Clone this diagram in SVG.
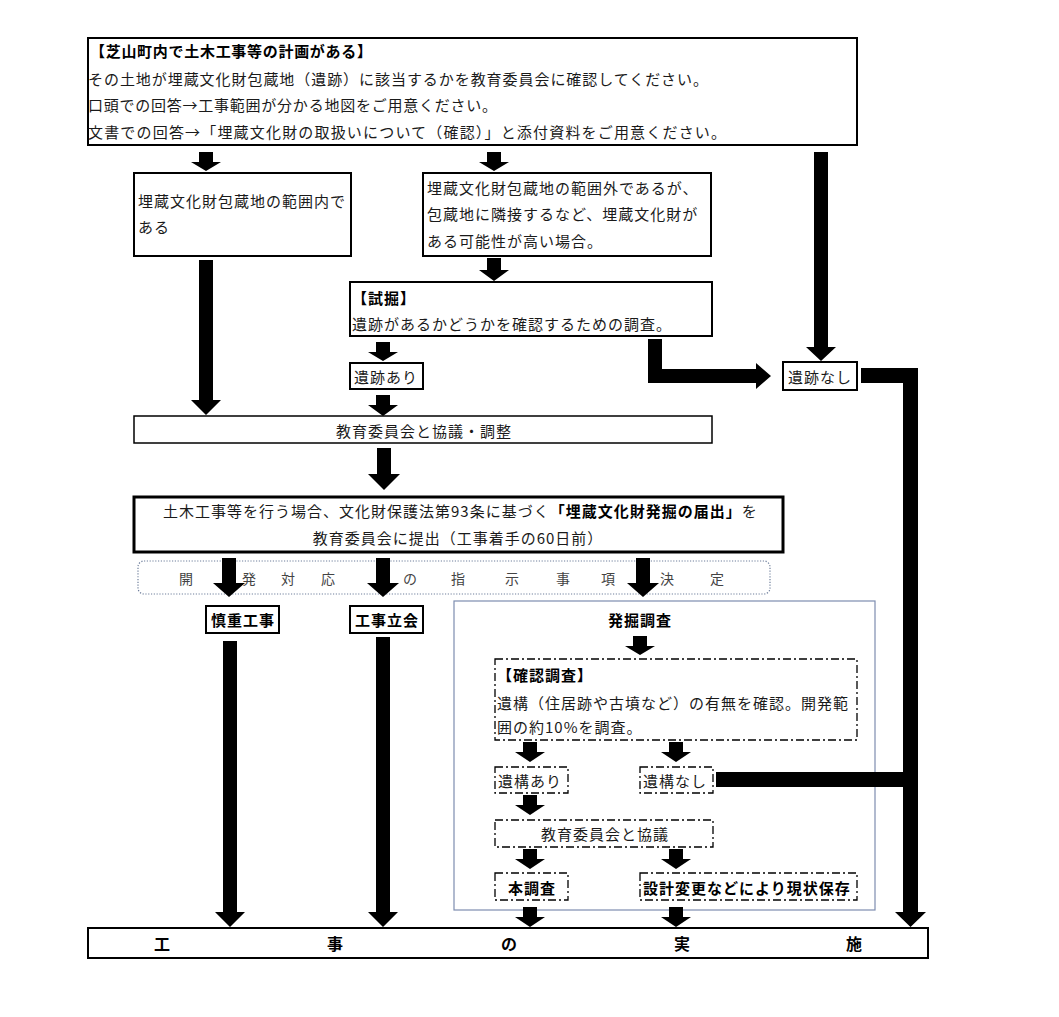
<svg xmlns="http://www.w3.org/2000/svg" width="1059" height="1017" viewBox="0 0 1059 1017">
<style>
.t{font-family:"Noto Sans CJK JP","Noto Sans",sans-serif;font-size:15px;fill:#1a1a1a;letter-spacing:1px;dominant-baseline:central}
.tt{letter-spacing:0}
.b{font-weight:bold;fill:#000}
.m{text-anchor:middle}
.box{fill:#fff;stroke:#000;stroke-width:2}
.thin{fill:#fff;stroke:#000;stroke-width:1.5}
.thick{fill:#fff;stroke:#000;stroke-width:3}
.dd{fill:#fff;stroke:#000;stroke-width:1.3;stroke-dasharray:8 3 2 3}
.band{fill:none;stroke:#6f7f9c;stroke-width:1.2;stroke-dasharray:1.2 1.6}
.bandt{font-size:14px;fill:#444;letter-spacing:0}
.frame{fill:none;stroke:#7d8db0;stroke-width:1.2}
.arr{fill:#000}
</style>
<rect width="1059" height="1017" fill="#fff"/>

<g id="band">
<rect class="band" x="138" y="561" width="632" height="33" rx="6"/>
<text class="t bandt m" y="578" x="186 249 288 328 410 458 512 563 608 667 717">開発対応の指示事項決定</text>
</g>

<g id="excavation-frame">
<rect class="frame" x="454" y="601" width="421" height="309"/>
<text class="t b m" x="640" y="619">発掘調査</text>
</g>

<g id="connectors">
<path class="arr" d="M199 152H213V162H221L206 171L191 162H199Z"/>
<path class="arr" d="M487 152H501V162H509L494 171L479 162H487Z"/>
<path class="arr" d="M814 152H828V347H836L821 361L806 347H814Z"/>
<path class="arr" d="M487 258H501V270H509L494 281L479 270H487Z"/>
<path class="arr" d="M199 260H213V400H221L206 415L191 400H199Z"/>
<path class="arr" d="M376 342H390V352H398L383 361L368 352H376Z"/>
<path class="arr" d="M376 395H390V405H398L383 416L368 405H376Z"/>
<path class="arr" d="M648 339H662V369H756V363L771 376L756 389V383H648Z"/>
<path class="arr" d="M377 448H391V474H400L384 490L368 474H377Z"/>
<path class="arr" d="M222 558H236V583H245L229 597L213 583H222Z"/>
<path class="arr" d="M376 558H390V583H399L383 597L367 583H376Z"/>
<path class="arr" d="M636 558H650V583H659L643 597L627 583H636Z"/>
<path class="arr" d="M223 641H237V912H245L230 927L215 912H223Z"/>
<path class="arr" d="M376 637H390V912H398L383 927L368 912H376Z"/>
<path class="arr" d="M633 636H647V646H655L640 655L625 646H633Z"/>
<path class="arr" d="M523 742H537V752H545L530 762L515 752H523Z"/>
<path class="arr" d="M669 742H683V752H691L676 762L661 752H669Z"/>
<path class="arr" d="M523 795H537V805H545L530 815L515 805H523Z"/>
<path class="arr" d="M523 849H537V859H545L530 869L515 859H523Z"/>
<path class="arr" d="M669 849H683V859H691L676 869L661 859H669Z"/>
<path class="arr" d="M523 907H537V917H545L530 927L515 917H523Z"/>
<path class="arr" d="M669 907H683V917H691L676 927L661 917H669Z"/>
<path class="arr" d="M861 368H918V912H926L910.5 927L895 912H903V383H861Z"/>
<rect class="arr" x="716" y="772" width="190" height="15"/>
</g>

<g id="plan">
<rect class="box" x="88" y="38" width="769" height="107"/>
<text class="t tt b" x="90" y="50" textLength="282">【芝山町内で土木工事等の計画がある】</text>
<text class="t tt" x="88" y="78" textLength="620">その土地が埋蔵文化財包蔵地（遺跡）に該当するかを教育委員会に確認してください。</text>
<text class="t tt" x="88" y="104" textLength="409">口頭での回答→工事範囲が分かる地図をご用意ください。</text>
<text class="t tt" x="88" y="131" textLength="638">文書での回答→「埋蔵文化財の取扱いについて（確認）」と添付資料をご用意ください。</text>
</g>

<g id="inside">
<rect class="box" x="134" y="173" width="217" height="83"/>
<text class="t" x="138" y="200">埋蔵文化財包蔵地の範囲内で</text>
<text class="t" x="138" y="226">ある</text>
</g>

<g id="adjacent">
<rect class="box" x="423" y="173" width="288" height="83"/>
<text class="t" x="427" y="187">埋蔵文化財包蔵地の範囲外であるが、</text>
<text class="t" x="427" y="213">包蔵地に隣接するなど、埋蔵文化財が</text>
<text class="t" x="427" y="240">ある可能性が高い場合。</text>
</g>

<g id="trial">
<rect class="box" x="350" y="282" width="362" height="54"/>
<text class="t b" x="352" y="297">【試掘】</text>
<text class="t" x="352" y="323">遺跡があるかどうかを確認するための調査。</text>
</g>

<g id="site-yes">
<rect class="box" x="350" y="363" width="73" height="26"/>
<text class="t" x="354" y="376">遺跡あり</text>
</g>

<g id="site-no">
<rect class="box" x="783" y="362" width="74" height="28"/>
<text class="t" x="788" y="376">遺跡なし</text>
</g>

<g id="consult">
<rect class="thin" x="134" y="416" width="578" height="27"/>
<text class="t m" x="424" y="430">教育委員会と協議・調整</text>
</g>

<g id="notice">
<rect class="thick" x="134" y="497" width="649" height="55"/>
<text class="t" x="163" y="510">土木工事等を行う場合、文化財保護法第93条に基づく<tspan class="b">「埋蔵文化財発掘の届出」</tspan>を</text>
<text class="t m" x="458" y="537">教育委員会に提出（工事着手の60日前）</text>
</g>

<g id="careful">
<rect class="box" x="206" y="606" width="73" height="27"/>
<text class="t b m" x="243" y="619">慎重工事</text>
</g>

<g id="witness">
<rect class="box" x="350" y="606" width="73" height="27"/>
<text class="t b m" x="387" y="619">工事立会</text>
</g>

<g id="confirm">
<rect class="dd" x="495" y="659" width="362" height="81"/>
<text class="t b" x="497" y="674">【確認調査】</text>
<text class="t" x="497" y="702">遺構（住居跡や古墳など）の有無を確認。開発範</text>
<text class="t" x="497" y="726">囲の約10%を調査。</text>
</g>

<g id="feature-yes">
<rect class="dd" x="495" y="767" width="73" height="26"/>
<text class="t" x="498" y="780">遺構あり</text>
</g>

<g id="feature-no">
<rect class="dd" x="640" y="767" width="73" height="26"/>
<text class="t" x="643" y="780">遺構なし</text>
</g>

<g id="consult2">
<rect class="dd" x="495" y="820" width="218" height="27"/>
<text class="t m" x="605" y="833">教育委員会と協議</text>
</g>

<g id="main-survey">
<rect class="dd" x="495" y="873" width="73" height="27"/>
<text class="t b m" x="532" y="887">本調査</text>
</g>

<g id="preserve">
<rect class="dd" x="640" y="873" width="217" height="27"/>
<text class="t b" x="643" y="887">設計変更などにより現状保存</text>
</g>

<g id="construction">
<rect class="box" x="88" y="928" width="840" height="30"/>
<text class="t b m" y="943" style="font-size:16px;letter-spacing:0" x="162 335 509 682 854">工事の実施</text>
</g>
</svg>
